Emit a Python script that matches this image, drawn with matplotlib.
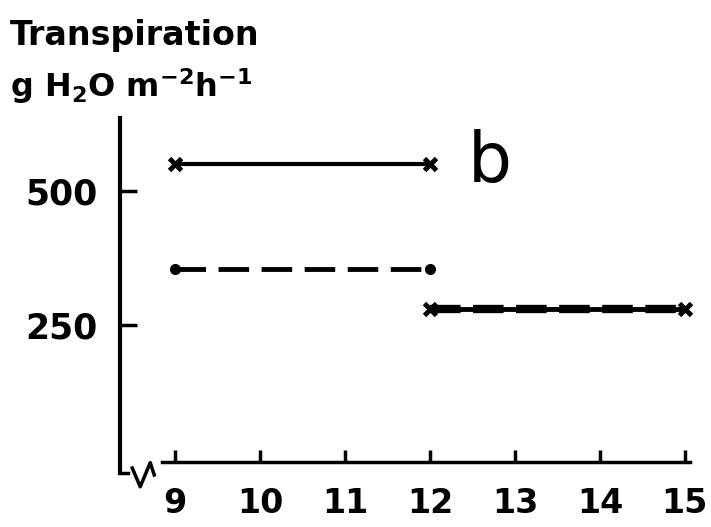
import matplotlib.pyplot as plt

plt.rcParams["lines.scale_dashes"] = False
plt.rcParams["mathtext.default"] = "regular"

# ── Data ──────────────────────────────────────────────────────────────────────
hours_am = [9, 12]
hours_pm = [12, 15]
transp_solid = [550, 550]       # solid line, x markers
transp_dashed = [355, 355]      # dashed line, dot markers
transp_pm = [280, 280]          # both treatments after 12 h

x_ticks = [9, 10, 11, 12, 13, 14, 15]
y_ticks = [250, 500]

# ── Figure ────────────────────────────────────────────────────────────────────
fig = plt.figure(figsize=(7.11, 5.27), dpi=100)
ax = fig.add_axes([0.1688, 0.0987, 0.8087, 0.6773])
ax.set_xlim(8.35, 15.12)
ax.set_ylim(-30, 636)

ax.plot(hours_am, transp_solid, color="black", lw=3, marker="x",
        ms=9, mew=3.5)
ax.plot(hours_am, transp_dashed, color="black", lw=3.5, dashes=(22, 9),
        marker="o", ms=7)
ax.plot(hours_pm, transp_pm, color="black", lw=3.5, marker="x",
        ms=9, mew=3.5)
ax.plot(hours_pm, transp_pm, color="black", lw=6, dashes=(22, 9))

ax.text(12.44, 553, "b", fontsize=50, va="center", ha="left")

# axes styling
for s in ["top", "right"]:
    ax.spines[s].set_visible(False)
ax.spines["left"].set_linewidth(3)
ax.spines["left"].set_bounds(-26, 636)
ax.spines["bottom"].set_linewidth(2.5)
ax.spines["bottom"].set_position(("data", -6))
ax.spines["bottom"].set_bounds(8.85, 15.06)

ax.set_xticks(x_ticks)
ax.set_yticks(y_ticks)
ax.tick_params(axis="x", direction="in", length=9, width=2.5, pad=18,
               labelsize=24)
ax.tick_params(axis="y", direction="in", length=12, width=2.5, pad=16,
               labelsize=25)
for lab in ax.get_xticklabels() + ax.get_yticklabels():
    lab.set_fontweight("bold")

# axis break mark at the bottom of the y-axis
ax.plot([8.35, 8.447], [-26, -26], color="black", lw=2.5, clip_on=False)
ax.plot([8.494, 8.588, 8.706, 8.753], [-17, -52, -7, -30], color="black",
        lw=2.5, clip_on=False)

# y-axis title
fig.text(0.014, 0.915, "Transpiration", fontsize=24, fontweight="bold",
         ha="left", va="baseline")
fig.text(0.014, 0.815, r"g H$_2$O m$^{-2}$h$^{-1}$", fontsize=23,
         fontweight="bold", ha="left", va="baseline")

plt.savefig("out.png", dpi=100)
